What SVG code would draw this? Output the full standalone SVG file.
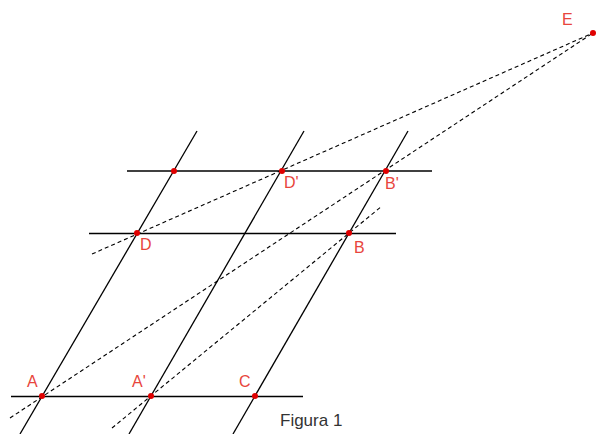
<svg xmlns="http://www.w3.org/2000/svg" width="602" height="434" viewBox="0 0 602 434">
<style>
.ln{stroke:#000;stroke-width:1.3;fill:none}
.hz{stroke:#000;stroke-width:1.5;fill:none}
.ds{stroke:#000;stroke-width:1.1;fill:none;stroke-dasharray:4 3}
.pt{fill:#e00000}
.lb{font-family:"Liberation Sans",Arial,sans-serif;font-size:16px;fill:#e8453c}
.cap{font-family:"Liberation Sans",Arial,sans-serif;font-size:17px;fill:#333}
</style>
<rect width="602" height="434" fill="#fff"/>
<g id="connectors">
<line class="hz" x1="11" y1="396.5" x2="303" y2="396.5"/>
<line class="hz" x1="89" y1="233.5" x2="396" y2="233.5"/>
<line class="hz" x1="127" y1="171" x2="432" y2="171"/>
<line class="ln" x1="20" y1="434" x2="197" y2="131"/>
<line class="ln" x1="129" y1="434" x2="304" y2="131"/>
<line class="ln" x1="233" y1="434" x2="408" y2="131"/>
<line class="ds" x1="92" y1="254" x2="593" y2="33"/>
<line class="ds" x1="10" y1="418" x2="593" y2="33"/>
<line class="ds" x1="112" y1="428" x2="382" y2="206"/>
</g>
<g id="A"><circle class="pt" cx="42" cy="396" r="3"/><text class="lb" x="27" y="387">A</text></g>
<g id="A1"><circle class="pt" cx="151" cy="396" r="3"/><text class="lb" x="132" y="387">A'</text></g>
<g id="C"><circle class="pt" cx="255" cy="396" r="3"/><text class="lb" x="239" y="387">C</text></g>
<g id="D"><circle class="pt" cx="137" cy="233" r="3"/><text class="lb" x="140" y="250">D</text></g>
<g id="B"><circle class="pt" cx="349" cy="233" r="3"/><text class="lb" x="354" y="253">B</text></g>
<g id="P"><circle class="pt" cx="174" cy="171" r="3"/></g>
<g id="D1"><circle class="pt" cx="282" cy="171" r="3"/><text class="lb" x="284" y="188">D'</text></g>
<g id="B1"><circle class="pt" cx="386" cy="171" r="3"/><text class="lb" x="385" y="189">B'</text></g>
<g id="E"><circle class="pt" cx="593" cy="33" r="3"/><text class="lb" x="562" y="25">E</text></g>
<g id="caption"><text class="cap" x="280" y="426">Figura 1</text></g>
</svg>
